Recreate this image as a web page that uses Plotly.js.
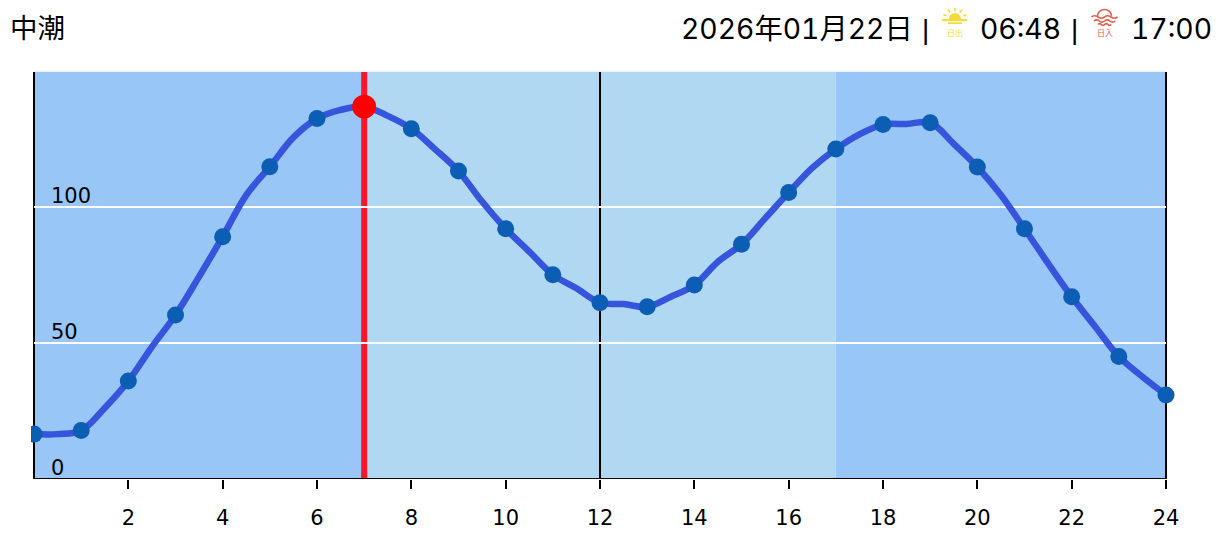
<!DOCTYPE html>
<html><head><meta charset="utf-8">
<script src="https://cdn.plot.ly/plotly-3.0.1.min.js"></script>
<style>html,body{margin:0;padding:0;background:#fff}#c{width:1220px;height:543px}.annotation-text{font-feature-settings:"tnum" 1;font-variant-numeric:tabular-nums}</style>
</head><body><div id="c"></div>
<script>
const hours=[0,1,2,3,4,5,6,7,8,9,10,11,12,13,14,15,16,17,18,19,20,21,22,23,24];
const tide=[16.5,17.8,36,60.3,89.1,114.8,132.5,136.9,128.8,113.2,92,75.1,64.8,63.3,71.3,86.3,105.3,121.3,130.3,131,114.7,92,67,45,30.9];
const curveHours=[0,0.5,1,1.5,2,2.5,3,3.5,4,4.5,5,5.5,6,6.5,7,7.5,8,8.5,9,9.5,10,10.5,11,11.5,12,12.5,13,13.5,14,14.5,15,15.5,16,16.5,17,17.5,18,18.5,19,19.5,20,20.5,21,21.5,22,22.5,23,23.5,24];
const curveTide=[16.5,16.5,17.8,26.1,36,48.6,60.3,74.4,89.1,104.4,114.8,125.6,132.5,135.7,136.9,133.5,128.8,121.3,113.2,102,92,83.6,75.1,70.1,64.8,64.3,63.3,67,71.3,79.9,86.3,95.8,105.3,114.4,121.3,126.7,130.3,130.5,131,123.2,114.7,104.4,92,79.3,67,56,45,37.6,30.9];
const currentHour=7, currentTide=136.9, noonHour=12;
const nightBands=[[0,7],[17,24]], dayBand=[7,17];
const gridValues=[50,100];
const yTicks=[0,50,100];
const xTicks=[2,4,6,8,10,12,14,16,18,20,22,24];
const tideName="中潮", dateText="2026年01月22日", sunrise="06:48", sunset="17:00";

const W=1220,H=543,L=31,R=42,T=72,B=64,PW=W-L-R,PH=H-T-B;
const px=x=>(x-L)/PW, py=y=>1-(y-T)/PH;
const hdrFont={family:'Inter,"Noto Sans CJK JP",sans-serif',size:28.3,color:'#000'};
const barFont={family:'"Liberation Sans",sans-serif',size:28,color:'#000'};
const tickFont={family:'"DejaVu Sans",sans-serif',size:21,color:'#000'};
const note=(text,x,y,font,anchor)=>({text,xref:'paper',yref:'paper',x:px(x),y:py(y),xanchor:anchor||'left',yanchor:'middle',showarrow:false,font:font||hdrFont,borderpad:0});
const sunC='#f2dc3c', setC='#e8604c';
const sunSvg='data:image/svg+xml;utf8,'+encodeURIComponent('<svg xmlns="http://www.w3.org/2000/svg" width="30" height="20" viewBox="0 0 30 20"><path d="M9 13a6 6 0 0 1 12 0z" fill="'+sunC+'"/><rect x="2" y="13" width="25" height="2.2" fill="'+sunC+'"/><rect x="8" y="16.3" width="14" height="1.8" fill="'+sunC+'"/><g stroke="'+sunC+'" stroke-width="1.7"><line x1="15" y1="2" x2="15" y2="5.500"/><line x1="8" y1="3.500" x2="10" y2="6.500"/><line x1="22" y1="3.500" x2="20" y2="6.500"/><line x1="3.500" y1="8.500" x2="6.500" y2="10"/><line x1="26.500" y1="8.500" x2="23.500" y2="10"/></g></svg>');
const setSvg='data:image/svg+xml;utf8,'+encodeURIComponent('<svg xmlns="http://www.w3.org/2000/svg" width="30" height="20" viewBox="0 0 30 20"><g fill="none" stroke="'+setC+'" stroke-width="1.6"><path d="M7.500 10a7 6.500 0 0 1 14 0"/><path d="M1.500 11q3.200-2.400 6.500 0t6.500 0t6.500 0t6.500 0"/><path d="M4 15q2.600-2.400 5.300 0t5.300 0t5.300 0t5.300 0"/><path d="M8 18.500q1.700-1.800 3.300 0t3.300 0t3.300 0t3.300 0"/></g></svg>');

const shapes=[];
const rect=(x0,x1,c)=>({type:'rect',xref:'x',yref:'paper',x0,x1,y0:0,y1:1,fillcolor:c,line:{width:0},layer:'below'});
nightBands.forEach(b=>shapes.push(rect(b[0],b[1],'#98c6f7')));
shapes.push(rect(dayBand[0],dayBand[1],'#b0d8f2'));
gridValues.forEach(v=>shapes.push({type:'line',xref:'x',yref:'y',x0:0,x1:24,y0:v,y1:v,line:{color:'#fff',width:2},layer:'below'}));
[0,noonHour,24].forEach(h=>shapes.push({type:'line',xref:'x',yref:'paper',x0:h,x1:h,y0:0,y1:1,line:{color:'#000',width:2},layer:'below'}));
shapes.push({type:'line',xref:'x',yref:'y',x0:0,x1:24,y0:0,y1:0,line:{color:'#000',width:2},layer:'below'});
shapes.push({type:'line',xref:'x',yref:'paper',x0:currentHour,x1:currentHour,y0:0,y1:1,line:{color:'#ff1428',width:6},layer:'below'});
shapes.push({type:'line',xref:'x',yref:'paper',x0:0,x1:24,y0:1.002,y1:1.002,line:{color:'#e8eef3',width:1},layer:'below'});

const traces=[
 {x:curveHours,y:curveTide,mode:'lines',line:{color:'#3654dc',width:6.5,shape:'spline',smoothing:1},hoverinfo:'skip'},
 {x:hours,y:tide,mode:'markers',marker:{color:'#0b5eb4',size:17},hoverinfo:'skip'},
 {x:[currentHour],y:[currentTide],mode:'markers',marker:{color:'#ff0000',size:24},hoverinfo:'skip'}
];
const layout={
 width:W,height:H,margin:{l:L,r:R,t:T,b:B,pad:0},paper_bgcolor:'#fff',plot_bgcolor:'#fff',showlegend:false,hovermode:false,
 xaxis:{range:[-3/47.17,24+12/47.17],tickvals:xTicks,ticktext:xTicks.map(String),ticks:'outside',ticklen:9,tickwidth:2,tickcolor:'#000',showgrid:false,zeroline:false,showline:false,ticklabelstandoff:11,tickfont:tickFont},
 yaxis:{range:[0,(479-72)/2.72],showticklabels:false,ticks:'',showgrid:false,zeroline:false,showline:false},
 shapes,
 images:[
  {source:sunSvg,xref:'paper',yref:'paper',x:px(940),y:py(6),sizex:30/PW,sizey:20/PH,xanchor:'left',yanchor:'top',sizing:'stretch',layer:'above'},
  {source:setSvg,xref:'paper',yref:'paper',x:px(1090),y:py(6),sizex:30/PW,sizey:20/PH,xanchor:'left',yanchor:'top',sizing:'stretch',layer:'above'}
 ],
 annotations:[
  note(tideName,9,28,{family:hdrFont.family,size:27.5,color:'#000'}),
  note(dateText,680,29),
  note('|',921,30,barFont),
  note(sunrise,979,29),
  note('|',1070,30,barFont),
  note(sunset,1130,29),
  note('日出',955,33,{family:'"Noto Sans CJK JP",sans-serif',size:8,color:sunC},'center'),
  note('日入',1105,33,{family:'"Noto Sans CJK JP",sans-serif',size:8,color:setC},'center')
 ].concat(yTicks.map(v=>({text:String(v),xref:'paper',yref:'y',x:px(50),y:v,yshift:11,xanchor:'left',yanchor:'middle',showarrow:false,font:tickFont,borderpad:0})))
};
Plotly.newPlot('c',traces,layout,{displayModeBar:false,staticPlot:true});
</script></body></html>
